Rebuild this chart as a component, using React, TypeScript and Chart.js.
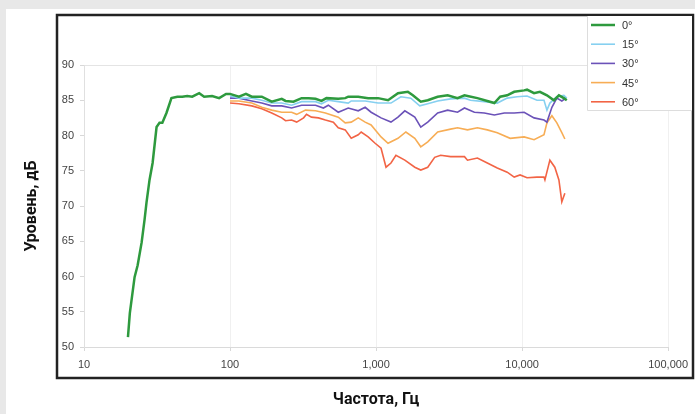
import React, { useEffect, useRef } from "react";
import { Chart, registerables } from "chart.js";

Chart.register(...registerables);

// ---- data ----
const seriesLabels = ["0°", "15°", "30°", "45°", "60°"];
const seriesColors = ["#2e9a3e", "#86d0f0", "#6b52b8", "#f7ad55", "#f26445"];
const seriesWidths = [2.5, 1.6, 1.6, 1.6, 1.6];

const xTickValues = [10, 100, 1000, 10000, 100000];

const freq0 = [20, 20.6, 22.2, 23.3, 24.8, 26, 26.8, 28.1, 29.5, 31.4, 32.9, 34.4, 36.7, 39.7, 43.6, 47.1, 50.9, 55.1, 61.5, 66.5, 75.4, 84.2, 93.9, 100, 115, 128.5, 141, 165, 193, 226, 240, 272, 309, 345, 385, 423, 457, 551, 615, 645, 698, 755, 883, 1032, 1208, 1413, 1651, 1786, 2024, 2259, 2642, 3090, 3614, 4031, 4227, 4943, 5779, 6457, 7079, 7907, 8831, 10325, 10812, 12078, 13243, 14797, 16520, 17870, 19320, 20230];
const level0 = [51.4, 54.8, 59.9, 61.6, 64.8, 68.1, 70.5, 73.7, 76.1, 81.2, 81.8, 81.8, 83.2, 85.3, 85.5, 85.5, 85.6, 85.5, 86.0, 85.5, 85.6, 85.3, 85.9, 85.9, 85.5, 85.9, 85.5, 85.5, 84.8, 85.2, 84.9, 84.8, 85.3, 85.3, 85.2, 84.9, 85.3, 85.2, 85.3, 85.5, 85.5, 85.5, 85.3, 85.3, 85.0, 86.0, 86.2, 85.7, 84.8, 85.0, 85.5, 85.7, 85.3, 85.7, 85.6, 85.3, 84.9, 84.6, 85.5, 85.7, 86.2, 86.4, 86.5, 86.0, 86.2, 85.7, 85.0, 85.7, 85.3, 85.0];

const freq15 = [100, 115, 141, 165, 193, 226, 264, 309, 385, 423, 471, 551, 645, 676, 842, 1032, 1265, 1479, 1730, 1992, 2259, 2642, 3238, 4031, 4428, 5512, 6761, 7907, 9247, 10812, 12644, 14125, 14797, 15500, 17300, 19320, 20230];
const level15 = [85.6, 85.3, 85.3, 85.0, 84.6, 84.6, 84.3, 84.8, 84.8, 84.5, 85.0, 84.8, 84.6, 84.9, 84.9, 84.6, 84.6, 85.5, 85.3, 84.2, 84.5, 84.9, 85.2, 85.3, 85.0, 84.8, 84.6, 85.3, 85.5, 85.6, 85.0, 85.0, 83.6, 84.6, 85.5, 85.7, 85.3];

const freq30 = [100, 115, 141, 165, 193, 226, 264, 309, 385, 436, 471, 551, 645, 755, 842, 925, 1082, 1265, 1413, 1574, 1842, 2024, 2259, 2642, 3090, 3614, 4031, 4714, 5512, 6457, 7551, 8831, 10325, 12078, 14125, 14797, 16000, 17300, 18710, 19630];
const level30 = [85.3, 85.3, 84.9, 84.6, 84.2, 84.2, 83.9, 84.3, 84.3, 83.9, 84.3, 83.3, 83.9, 83.5, 84.0, 83.3, 82.5, 81.9, 82.6, 83.5, 82.6, 81.2, 81.9, 83.2, 83.6, 83.3, 83.9, 83.3, 83.2, 82.9, 83.2, 83.2, 83.3, 82.5, 82.2, 81.9, 84.0, 85.3, 84.9, 85.2];

const freq45 = [100, 115, 141, 165, 193, 226, 264, 286, 329, 385, 450, 551, 615, 676, 755, 842, 925, 1082, 1208, 1413, 1600, 1842, 2024, 2259, 2642, 3238, 3614, 4227, 4943, 5779, 6761, 8285, 10325, 12078, 14125, 14797, 16000, 17300, 18710, 19630];
const level45 = [84.9, 84.9, 84.6, 84.0, 83.6, 83.3, 83.3, 83.0, 83.6, 83.5, 83.2, 82.6, 81.8, 81.9, 82.5, 81.9, 81.5, 79.8, 78.9, 79.6, 80.5, 79.6, 78.4, 79.1, 80.5, 80.9, 81.1, 80.8, 81.1, 80.8, 80.4, 79.6, 79.8, 79.4, 80.1, 81.8, 82.8, 81.8, 80.4, 79.5];

const freq60 = [100, 115, 141, 165, 193, 226, 240, 264, 286, 319, 334, 361, 403, 450, 510, 551, 615, 676, 755, 791, 883, 985, 1082, 1170, 1265, 1368, 1574, 1842, 2024, 2259, 2520, 2768, 3238, 4031, 4227, 4943, 5779, 6761, 7907, 8831, 9689, 10812, 12644, 14125, 14333, 15500, 16750, 17870, 18710, 19630];
const level60 = [84.6, 84.5, 84.2, 83.8, 83.2, 82.5, 82.1, 82.2, 81.9, 82.5, 83.0, 82.6, 82.5, 82.2, 81.9, 81.1, 80.8, 79.6, 80.1, 80.5, 79.8, 78.9, 78.2, 75.5, 76.1, 77.2, 76.5, 75.5, 75.1, 75.5, 76.9, 77.2, 77.0, 77.0, 76.5, 76.8, 76.1, 75.4, 74.8, 74.1, 74.4, 74.0, 74.1, 74.1, 73.7, 76.5, 75.5, 73.7, 70.6, 71.8];

const seriesFreqs = [freq0, freq15, freq30, freq45, freq60];
const seriesLevels = [level0, level15, level30, level45, level60];

const yTitle = "Уровень, дБ";
const xTitle = "Частота, Гц";

const tickFont = { family: "'Liberation Sans', Arial, sans-serif", size: 11 };
const titleFont = { family: "Roboto, 'Noto Sans', sans-serif", size: 16, weight: "bold" as const };

const backgroundPlugin = {
  id: "pageBackground",
  beforeDraw(chart: any) {
    const { ctx, width, height, chartArea } = chart;
    ctx.save();
    ctx.fillStyle = "#e8e8e8";
    ctx.fillRect(0, 0, width, height);
    ctx.fillStyle = "#ffffff";
    ctx.fillRect(6, 9, width - 6, height - 9);
    // frame
    ctx.strokeStyle = "#222222";
    ctx.lineWidth = 2.5;
    const l = chartArea.left - 27;
    const t = chartArea.top - 50;
    const r = width - 2;
    const b = chartArea.bottom + 31;
    ctx.strokeRect(l, t, r - l, b - t);
    ctx.restore();
  },
};

const legendPlugin = {
  id: "boxLegend",
  afterDraw(chart: any) {
    const { ctx, width, chartArea } = chart;
    const top = chartArea.top - 50;
    const left = 587;
    const right = width - 3;
    const rowH = 19.2;
    ctx.save();
    ctx.fillStyle = "#ffffff";
    ctx.fillRect(left, top + 1, right - left, 95);
    ctx.strokeStyle = "#dddddd";
    ctx.lineWidth = 1;
    ctx.beginPath();
    ctx.moveTo(left + 0.5, top + 1);
    ctx.lineTo(left + 0.5, top + 95.5);
    ctx.lineTo(right, top + 95.5);
    ctx.stroke();
    chart.data.datasets.forEach((ds: any, i: number) => {
      const y = top + 10 + i * rowH;
      ctx.strokeStyle = ds.borderColor;
      ctx.lineWidth = ds.borderWidth;
      ctx.beginPath();
      ctx.moveTo(left + 4, y);
      ctx.lineTo(left + 28, y);
      ctx.stroke();
      ctx.fillStyle = "#333333";
      ctx.font = "11px 'Liberation Sans', Arial, sans-serif";
      ctx.textBaseline = "middle";
      ctx.textAlign = "left";
      ctx.fillText(ds.label, left + 35, y + 1);
    });
    ctx.restore();
  },
};

export default function App() {
  const canvasRef = useRef<HTMLCanvasElement | null>(null);

  useEffect(() => {
    if (!canvasRef.current) return;
    const datasets = seriesLabels.map((label, i) => ({
      label,
      data: seriesFreqs[i].map((f, j) => ({ x: f, y: seriesLevels[i][j] })),
      borderColor: seriesColors[i],
      backgroundColor: seriesColors[i],
      borderWidth: seriesWidths[i],
      pointRadius: 0,
      tension: 0,
      fill: false,
    }));

    const chart = new Chart(canvasRef.current, {
      type: "line",
      data: { datasets },
      options: {
        animation: false,
        responsive: false,
        devicePixelRatio: 1,
        parsing: true,
        layout: { padding: { left: 22, right: 23, top: 65, bottom: 4 } },
        plugins: {
          legend: { display: false },
          tooltip: { enabled: false },
        },
        scales: {
          x: {
            type: "logarithmic",
            min: 10,
            max: 100000,
            afterBuildTicks: (scale: any) => {
              scale.ticks = xTickValues.map((v) => ({ value: v, major: true }));
            },
            afterFit: (scale: any) => {
              scale.height = 63;
            },
            ticks: {
              autoSkip: false,
              maxRotation: 0,
              padding: 7,
              color: "#444444",
              font: tickFont,
              callback: (v: any) => Number(v).toLocaleString("en-US"),
            },
            grid: { color: "#f0f0f0", tickLength: 4, tickColor: "#d8d8d8" },
            border: { color: "#dadada" },
            title: {
              display: true,
              text: xTitle,
              color: "#111111",
              font: titleFont,
              padding: { top: 0, bottom: 0 },
            },
          },
          y: {
            type: "linear",
            min: 50,
            max: 90,
            afterFit: (scale: any) => {
              scale.width = 62;
            },
            ticks: {
              stepSize: 5,
              padding: 6,
              color: "#444444",
              font: tickFont,
            },
            grid: {
              color: (c: any) => (c.tick && (c.tick.value === 90 || c.tick.value === 50) ? "#e4e4e4" : "rgba(0,0,0,0)"),
              tickLength: 4,
              tickColor: "#d8d8d8",
            },
            border: { color: "#e0e0e0" },
            title: {
              display: true,
              text: yTitle,
              color: "#111111",
              font: titleFont,
              padding: { top: 0, bottom: 0 },
            },
          },
        },
      },
      plugins: [backgroundPlugin, legendPlugin],
    });
    return () => chart.destroy();
  }, []);

  return (
    <div style={{ position: "fixed", left: 0, top: 0, width: 695, height: 414 }}>
      <canvas ref={canvasRef} width={695} height={414} style={{ width: 695, height: 414, display: "block" }} />
    </div>
  );
}
